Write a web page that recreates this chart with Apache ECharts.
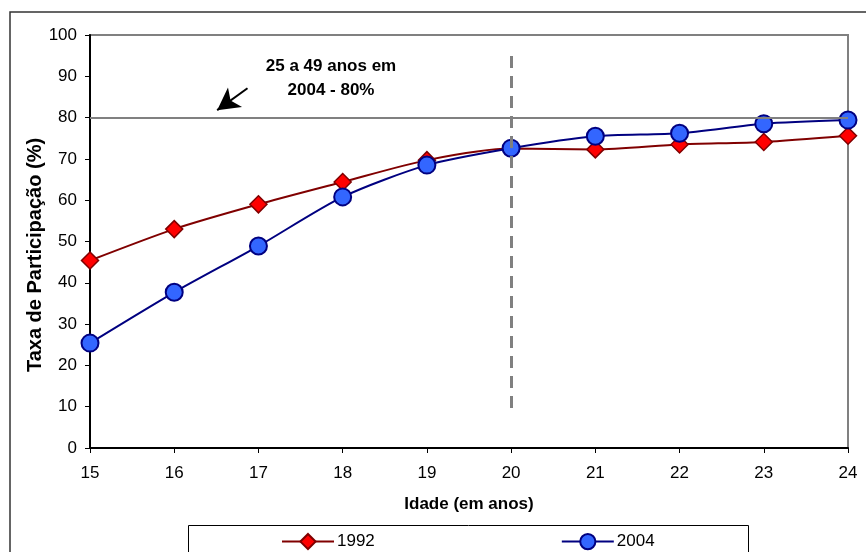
<!DOCTYPE html>
<html>
<head>
<meta charset="utf-8">
<style>
  html, body { margin: 0; padding: 0; background: #ffffff; }
  #chart { width: 866px; height: 552px; }
</style>
<script src="https://cdn.jsdelivr.net/npm/echarts@6/dist/echarts.min.js"></script>
</head>
<body>
<div id="chart"></div>
<script>
// Idade (anos) e taxa de participação (%) por ano
const ages = [15, 16, 17, 18, 19, 20, 21, 22, 23, 24];
const rate1992 = [45.4, 53.0, 59.0, 64.4, 69.7, 72.5, 72.3, 73.5, 74.1, 75.6];
const rate2004 = [25.4, 37.7, 48.9, 60.8, 68.5, 72.6, 75.5, 76.2, 78.5, 79.4];
const yTicks = { min: 0, max: 100, step: 10 };
const refRate = 80;      // taxa 25 a 49 anos em 2004
const refAge = 20;       // idade marcada com linha tracejada

const FONT = '"Liberation Sans", Arial, sans-serif';

const chart = echarts.init(document.getElementById('chart'), null, { renderer: 'canvas' });

const toPairs = (vals) => ages.map((a, i) => [a, vals[i]]);

chart.setOption({
  animation: false,
  backgroundColor: '#ffffff',
  textStyle: { fontFamily: FONT, color: '#000' },
  grid: {
    left: 90, right: 18, top: 35, bottom: 104,
    show: true, borderColor: '#808080', borderWidth: 2, backgroundColor: 'transparent'
  },
  xAxis: {
    type: 'value', min: ages[0], max: ages[ages.length - 1], interval: 1,
    name: 'Idade (em anos)', nameLocation: 'middle', nameGap: 48,
    nameTextStyle: { fontFamily: FONT, fontSize: 17, fontWeight: 'bold', color: '#000' },
    axisLine: { show: true, onZero: false, lineStyle: { color: '#000', width: 2 } },
    axisTick: { show: true, inside: false, length: 5, lineStyle: { color: '#000' } },
    axisLabel: { fontFamily: FONT, fontSize: 17, color: '#000', margin: 17 },
    splitLine: { show: false }
  },
  yAxis: {
    type: 'value', min: yTicks.min, max: yTicks.max, interval: yTicks.step,
    axisLine: { show: true, lineStyle: { color: '#000', width: 2 } },
    axisTick: { show: true, inside: false, length: 5, lineStyle: { color: '#000' } },
    axisLabel: { fontFamily: FONT, fontSize: 17, color: '#000', margin: 13 },
    splitLine: { show: false }
  },
  legend: {
    left: 276, top: 528, itemWidth: 52, itemHeight: 19, itemGap: 186,
    textStyle: { fontFamily: FONT, fontSize: 17, color: '#000', padding: [0, 0, 0, -2] },
    data: ['1992', '2004']
  },
  series: [
    {
      name: '1992', type: 'line', data: toPairs(rate1992), smooth: 0.25,
      symbol: 'diamond', symbolSize: 17, z: 3,
      lineStyle: { color: '#800000', width: 2 },
      itemStyle: { color: '#ff0000', borderColor: '#800000', borderWidth: 1.5 },
      markLine: {
        silent: true, symbol: ['none', 'none'], label: { show: false },
        lineStyle: { color: '#808080', width: 2, type: 'solid' },
        data: [{ yAxis: refRate }]
      }
    },
    {
      name: '2004', type: 'line', data: toPairs(rate2004), smooth: 0.25,
      symbol: 'circle', symbolSize: 17, z: 4,
      lineStyle: { color: '#000080', width: 2 },
      itemStyle: { color: '#3366ff', borderColor: '#000080', borderWidth: 2 },
      markLine: {
        silent: true, label: { show: false },
        data: [
          // linha vertical tracejada em 20 anos
          [
            { coord: [refAge, 9.7], symbol: 'none', lineStyle: { color: '#808080', width: 3, type: [12, 8] } },
            { coord: [refAge, 96.8], symbol: 'none' }
          ],
          // seta apontando para a linha de 80%
          [
            { coord: [16.87, 87.1], symbol: 'none', lineStyle: { color: '#000', width: 2, type: 'solid' } },
            { coord: [16.51, 81.8], symbol: 'arrow', symbolSize: [18, 22] }
          ]
        ]
      }
    }
  ],
  graphic: [
    // moldura externa
    { type: 'rect', shape: { x: 10, y: 12, width: 880, height: 580 },
      style: { fill: 'none', stroke: '#333', lineWidth: 1.5 }, silent: true },
    // caixa da legenda
    { type: 'rect', shape: { x: 188.5, y: 525.5, width: 560, height: 40 },
      style: { fill: 'none', stroke: '#000', lineWidth: 1 }, silent: true, z: -1 },
    // título do eixo vertical
    { type: 'text', x: 35, y: 255, rotation: Math.PI / 2,
      style: { text: 'Taxa de Participação (%)', font: 'bold 20px ' + FONT, fill: '#000',
               align: 'center', verticalAlign: 'middle' } },
    // anotação
    { type: 'text', x: 331, y: 54,
      style: { text: '25 a 49 anos em\n2004 - 80%', font: 'bold 17px ' + FONT, fill: '#000',
               align: 'center', lineHeight: 24 } }
  ]
});
</script>
</body>
</html>
